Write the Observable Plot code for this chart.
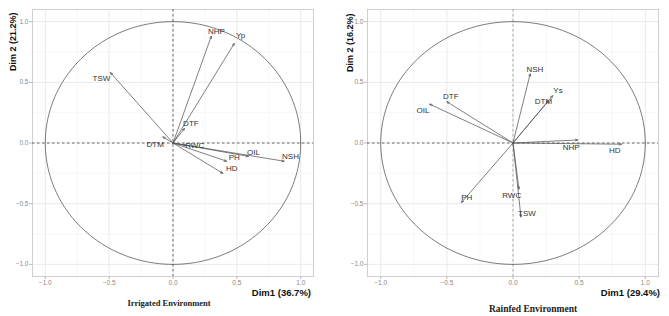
<!DOCTYPE html>
<html>
<head>
<meta charset="utf-8">
<script src="https://cdn.jsdelivr.net/npm/d3@7"></script>
<script src="https://cdn.jsdelivr.net/npm/@observablehq/plot@0.6"></script>
<style>
  html, body { margin: 0; padding: 0; background: #fff; }
  #wrap { position: relative; width: 669px; height: 316px; font-family: "Liberation Sans", Arial, sans-serif; }
  .panel { position: absolute; top: 0; }
  .ytitle { position: absolute; font-weight: bold; font-size: 9px; line-height: 11px; color: #111; transform-origin: left top; transform: rotate(-90deg); white-space: nowrap; }
  .xtitle { position: absolute; font-weight: bold; font-size: 9.5px; line-height: 12px; color: #111; white-space: nowrap; text-align: right; }
  .cap { position: absolute; font-family: "Liberation Serif", "Times New Roman", serif; font-weight: bold; color: #222; white-space: nowrap; transform: translateX(-50%); }
</style>
</head>
<body>
<div id="wrap">
  <div id="left" class="panel" style="left:0px"></div>
  <div id="right" class="panel" style="left:340px"></div>
  <div class="ytitle" style="left:8px; top:71px">Dim 2 (21.2%)</div>
  <div class="ytitle" style="left:345px; top:72px">Dim 2 (16.2%)</div>
  <div class="xtitle" style="right:358px; top:287px">Dim1 (36.7%)</div>
  <div class="xtitle" style="right:9px; top:287px">Dim1 (29.4%)</div>
  <div class="cap" style="left:169px; top:298px; font-size:8.5px">Irrigated Environment</div>
  <div class="cap" style="left:533px; top:304px; font-size:9.5px">Rainfed Environment</div>
</div>
<script>
// Irrigated environment (Dim1 36.7%, Dim2 21.2%)
const irrVars = ["NHP", "Yp", "TSW", "DTF", "DTM", "RWC", "OIL", "NSH", "PH", "HD"];
const irrDim1 = [0.30, 0.48, -0.49, 0.09, -0.08, 0.10, 0.59, 0.87, 0.42, 0.39];
const irrDim2 = [0.88, 0.82, 0.58, 0.12, 0.05, -0.02, -0.11, -0.15, -0.15, -0.25];
const irrLabX = [0.34, 0.53, -0.56, 0.14, -0.14, 0.17, 0.63, 0.92, 0.48, 0.46];
const irrLabY = [0.92, 0.89, 0.53, 0.16, -0.01, -0.02, -0.08, -0.11, -0.12, -0.21];

// Rainfed environment (Dim1 29.4%, Dim2 16.2%)
const rfVars = ["NSH", "Ys", "DTM", "DTF", "OIL", "NHP", "HD", "PH", "RWC", "TSW"];
const rfDim1 = [0.13, 0.30, 0.27, -0.50, -0.63, 0.49, 0.82, -0.39, 0.045, 0.06];
const rfDim2 = [0.57, 0.39, 0.35, 0.34, 0.32, 0.025, -0.01, -0.49, -0.38, -0.61];
const rfLabX = [0.165, 0.34, 0.23, -0.47, -0.68, 0.44, 0.77, -0.35, -0.01, 0.105];
const rfLabY = [0.61, 0.43, 0.34, 0.38, 0.27, -0.035, -0.065, -0.45, -0.43, -0.58];

const majorTicks = [-1, -0.5, 0, 0.5, 1];
const minorTicks = [-0.75, -0.25, 0.25, 0.75];

// unit circle of correlations (geometric reference)
const circle = d3.range(0, 361, 2).map(a => ({cx: Math.cos(a * Math.PI / 180), cy: Math.sin(a * Math.PI / 180)}));

function panel(vars, d1, d2, lx, ly, opts) {
  const data = vars.map((v, i) => ({v, x: d1[i], y: d2[i], lx: lx[i], ly: ly[i]}));
  return Plot.plot({
    width: opts.width,
    height: 300,
    marginLeft: opts.ml,
    marginRight: opts.mr,
    marginTop: 9,
    marginBottom: 24,
    style: {fontFamily: "Liberation Sans, Arial, sans-serif", background: "#fff"},
    x: {domain: [-1.1, 1.1], ticks: majorTicks, tickFormat: d3.format(".1f"), label: null, tickSize: 3, tickPadding: 1},
    y: {domain: [-1.1, 1.1], ticks: majorTicks, tickFormat: d3.format(".1f"), label: null, tickSize: 3, tickPadding: 1},
    marks: [
      Plot.gridX(minorTicks, {stroke: "#f2f2f2", strokeOpacity: 1, strokeWidth: 0.6}),
      Plot.gridY(minorTicks, {stroke: "#f2f2f2", strokeOpacity: 1, strokeWidth: 0.6}),
      Plot.gridX(majorTicks, {stroke: "#e6e6e6", strokeOpacity: 1, strokeWidth: 0.9}),
      Plot.gridY(majorTicks, {stroke: "#e6e6e6", strokeOpacity: 1, strokeWidth: 0.9}),
      Plot.frame({stroke: "#cfcfcf", strokeWidth: 1}),
      Plot.axisX({ticks: majorTicks, tickFormat: d3.format(".1f"), tickSize: 3, tickPadding: 1, stroke: "#bbb", fill: "#888", fontSize: 6.5, label: null}),
      Plot.axisY({ticks: majorTicks, tickFormat: d3.format(".1f"), tickSize: 3, tickPadding: 1, stroke: "#bbb", fill: "#888", fontSize: 6.5, label: null}),
      Plot.ruleX([0], {stroke: opts.dashColor, strokeDasharray: "2.5,2.5", strokeWidth: 0.8}),
      Plot.ruleY([0], {stroke: "#444", strokeDasharray: "2.5,2.5", strokeWidth: 0.8}),
      Plot.line(circle, {x: "cx", y: "cy", stroke: "#444", strokeWidth: 0.7}),
      Plot.arrow(data, {x1: () => 0, y1: () => 0, x2: "x", y2: "y", stroke: "#555", strokeWidth: 0.75, headLength: 5, headAngle: 45}),
      Plot.text(data, {x: "lx", y: "ly", text: "v", fill: "#333", fontSize: 8})
    ]
  });
}

document.getElementById("left").append(panel(irrVars, irrDim1, irrDim2, irrLabX, irrLabY, {width: 330, ml: 32, mr: 17, dashColor: "#444"}));
document.getElementById("right").append(panel(rfVars, rfDim1, rfDim2, rfLabX, rfLabY, {width: 329, ml: 27, mr: 11, dashColor: "#999"}));
</script>
</body>
</html>
